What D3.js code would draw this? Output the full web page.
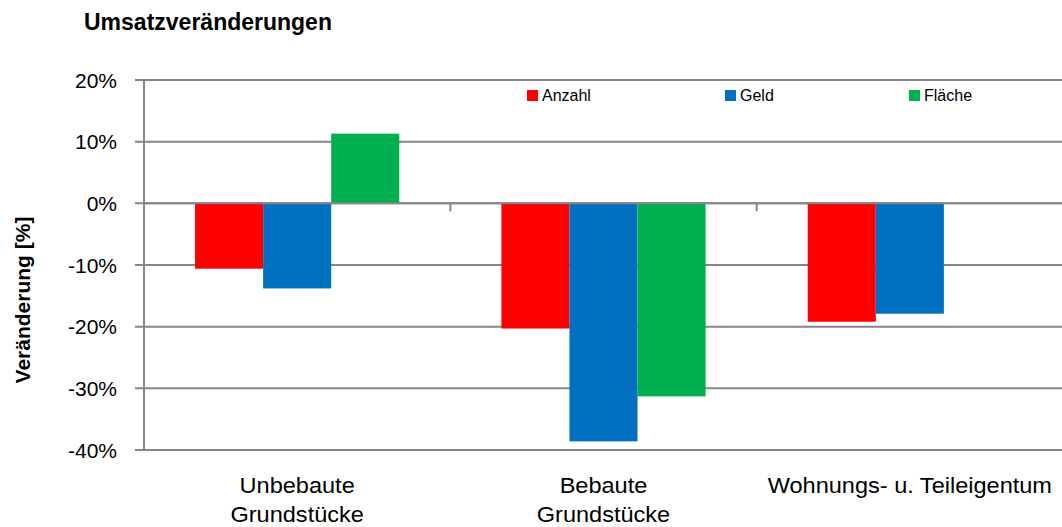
<!DOCTYPE html>
<html>
<head>
<meta charset="utf-8">
<script src="https://cdn.jsdelivr.net/npm/d3@7"></script>
<style>
  html, body { margin: 0; padding: 0; background: #fff; }
  svg { display: block; }
</style>
</head>
<body>
<svg id="chart" width="1062" height="527"></svg>
<script>
// ---- data ----
const categories = [["Unbebaute", "Grundstücke"], ["Bebaute", "Grundstücke"], ["Wohnungs- u. Teileigentum"]];
const categoryKeys = ["Unbebaute Grundstücke", "Bebaute Grundstücke", "Wohnungs- u. Teileigentum"];
const seriesNames = ["Anzahl", "Geld", "Fläche"];
const seriesColors = ["#ff0000", "#0070c0", "#00b050"];
const anzahl = [-10.6, -20.3, -19.2];
const geld = [-13.8, -38.6, -17.9];
const flaeche = [11.3, -31.3, null];
const yTicks = [20, 10, 0, -10, -20, -30, -40];

const seriesValues = [anzahl, geld, flaeche];

const svg = d3.select("#chart");
const W = 1062, H = 527;
const margin = { left: 144, right: -1, top: 80, bottom: 77 };
const gridColor = "#868686";
const font = "Liberation Sans, Arial, sans-serif";

const x = d3.scaleBand().domain(categoryKeys).range([margin.left, W - margin.right]).padding(0);
const bw = x.bandwidth();
const xs = d3.scaleBand().domain(seriesNames).range([bw / 6, bw * 5 / 6]).padding(0);
const y = d3.scaleLinear().domain([-40, 20]).range([H - margin.bottom, margin.top]);

// gridlines
svg.append("g").selectAll("line").data(yTicks).join("line")
  .attr("x1", margin.left - 9).attr("x2", W - margin.right)
  .attr("y1", d => y(d)).attr("y2", d => y(d))
  .attr("stroke", gridColor).attr("stroke-width", 2);

// y axis line
svg.append("line")
  .attr("x1", margin.left).attr("x2", margin.left)
  .attr("y1", y(20)).attr("y2", y(-40))
  .attr("stroke", gridColor).attr("stroke-width", 2);

// bars
const barData = [];
categoryKeys.forEach((c, i) => {
  seriesNames.forEach((s, j) => {
    const v = seriesValues[j][i];
    if (v !== null && v !== undefined) barData.push({ c, s, v, color: seriesColors[j] });
  });
});
svg.append("g").selectAll("rect").data(barData).join("rect")
  .attr("x", d => x(d.c) + xs(d.s))
  .attr("width", xs.bandwidth())
  .attr("y", d => y(Math.max(0, d.v)))
  .attr("height", d => Math.abs(y(d.v) - y(0)))
  .attr("fill", d => d.color);

// zero axis line on top
svg.append("line")
  .attr("x1", margin.left).attr("x2", W - margin.right)
  .attr("y1", y(0)).attr("y2", y(0))
  .attr("stroke", gridColor).attr("stroke-width", 2);

// category tick marks at zero line
const boundaries = categoryKeys.slice(1).map(c => x(c));
svg.append("g").selectAll("line").data(boundaries).join("line")
  .attr("x1", d => d).attr("x2", d => d)
  .attr("y1", y(0)).attr("y2", y(0) + 8)
  .attr("stroke", gridColor).attr("stroke-width", 2);

// y tick labels
svg.append("g").selectAll("text").data(yTicks).join("text")
  .attr("x", 117).attr("y", d => y(d))
  .attr("dy", "0.36em")
  .attr("text-anchor", "end")
  .attr("font-family", font)
  .attr("font-size", 21)
  .attr("fill", "#000")
  .text(d => d + "%");

// category labels
const catG = svg.append("g");
categoryKeys.forEach((c, i) => {
  const cx = x(c) + bw / 2;
  const t = catG.append("text")
    .attr("transform", "translate(" + cx + ",493) scale(1.07,1)")
    .attr("text-anchor", "middle")
    .attr("font-family", font)
    .attr("font-size", 22)
    .attr("fill", "#000");
  categories[i].forEach((line, k) => {
    t.append("tspan").attr("x", 0).attr("dy", k === 0 ? 0 : 29).text(line);
  });
});

// title
svg.append("text")
  .attr("x", 84).attr("y", 30)
  .attr("font-family", font)
  .attr("font-weight", "bold")
  .attr("font-size", 23)
  .attr("fill", "#000")
  .text("Umsatzveränderungen");

// y axis title
svg.append("text")
  .attr("transform", "translate(30,300) rotate(-90)")
  .attr("text-anchor", "middle")
  .attr("font-family", font)
  .attr("font-weight", "bold")
  .attr("font-size", 21)
  .attr("fill", "#000")
  .text("Veränderung [%]");

// legend
const legendX = [527, 725, 909];
const lg = svg.append("g");
seriesNames.forEach((s, j) => {
  lg.append("rect").attr("x", legendX[j]).attr("y", 90).attr("width", 11).attr("height", 11).attr("fill", seriesColors[j]);
  lg.append("text").attr("x", legendX[j] + 15).attr("y", 101)
    .attr("font-family", font)
    .attr("font-size", 16)
    .attr("fill", "#000")
    .text(s);
});
</script>
</body>
</html>
